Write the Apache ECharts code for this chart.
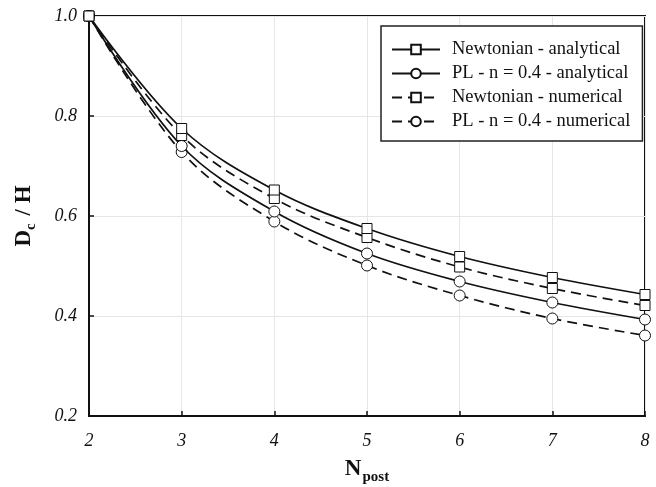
<!DOCTYPE html>
<html>
<head>
<meta charset="utf-8">
<script src="https://cdn.jsdelivr.net/npm/echarts@6/dist/echarts.min.js"></script>
<style>
  html, body { margin: 0; padding: 0; background: #fff; }
  #chart { width: 656px; height: 487px; }
</style>
</head>
<body>
<div id="chart"></div>
<script>
// Number of posts
const nPost = [2, 3, 4, 5, 6, 7, 8];
// Dimensionless D_c / H
const newtonianAnalytical = [1.0, 0.775, 0.652, 0.575, 0.519, 0.477, 0.443];
const plAnalytical        = [1.0, 0.740, 0.609, 0.525, 0.469, 0.427, 0.393];
const newtonianNumerical  = [1.0, 0.761, 0.635, 0.557, 0.498, 0.455, 0.421];
const plNumerical         = [1.0, 0.728, 0.589, 0.501, 0.441, 0.395, 0.361];

const seriesNames = [
  'Newtonian - analytical',
  'PL - n = 0.4 - analytical',
  'Newtonian - numerical',
  'PL - n = 0.4 - numerical'
];

const FONT = '"Liberation Serif", "DejaVu Serif", serif';

function pairs(ys) { return nPost.map((x, i) => [x, ys[i]]); }

function makeSeries(name, ys, symbol, dashed, z) {
  return {
    name: name,
    type: 'line',
    data: pairs(ys),
    smooth: 0.35,
    symbol: symbol,
    symbolSize: symbol === 'rect' ? 10 : 11,
    showAllSymbol: true,
    z: z,
    lineStyle: { color: '#111', width: 1.7, type: dashed ? [10, 6] : 'solid' },
    itemStyle: { color: '#fff', borderColor: '#111', borderWidth: 1 },
    emphasis: { disabled: true },
    animation: false
  };
}

const chart = echarts.init(document.getElementById('chart'), null, { renderer: 'canvas' });
chart.setOption({
  backgroundColor: '#fff',
  animation: false,
  grid: {
    left: 89, right: 11, top: 16, bottom: 71,
    outerBoundsMode: 'none',
    containLabel: false,
    show: true, borderColor: '#111', borderWidth: 2, backgroundColor: 'transparent'
  },
  legend: {
    orient: 'vertical',
    left: 381, top: 26,
    data: seriesNames,
    itemWidth: 48, itemHeight: 12, itemGap: 5,
    padding: [14, 12, 10, 10],
    borderColor: '#222', borderWidth: 1.5,
    backgroundColor: '#fff',
    textStyle: { fontFamily: FONT, fontSize: 18.5, lineHeight: 18, color: '#111', padding: [0, 0, 0, 7] },
    selectedMode: false
  },
  xAxis: {
    type: 'value', min: 2, max: 8, interval: 1,
    axisLine: { lineStyle: { color: '#111', width: 2 } },
    axisTick: { inside: true, length: 5, lineStyle: { color: '#111', width: 1.5 } },
    splitLine: { show: true, lineStyle: { color: '#e6e6e6', width: 1 } },
    axisLabel: { fontFamily: FONT, fontStyle: 'italic', fontSize: 18, color: '#111', margin: 16 },
    name: '{b|N}{s|post}',
    nameLocation: 'middle', nameGap: 37,
    nameTextStyle: {
      rich: {
        b: { fontFamily: FONT, fontWeight: 'bold', fontSize: 23, color: '#111' },
        s: { fontFamily: FONT, fontWeight: 'bold', fontSize: 15, color: '#111', padding: [17, 0, 0, 1] }
      }
    }
  },
  yAxis: {
    type: 'value', min: 0.2, max: 1.0, interval: 0.2,
    axisLine: { lineStyle: { color: '#111', width: 2 } },
    axisTick: { inside: true, length: 5, lineStyle: { color: '#111', width: 1.5 } },
    splitLine: { show: true, lineStyle: { color: '#e6e6e6', width: 1 } },
    axisLabel: {
      fontFamily: FONT, fontStyle: 'italic', fontSize: 18, color: '#111', margin: 12,
      formatter: v => v.toFixed(1)
    },
    name: '{b|D}{s|c}{b| / H}',
    nameLocation: 'middle', nameGap: 50, nameRotate: 90,
    nameTextStyle: {
      rich: {
        b: { fontFamily: FONT, fontWeight: 'bold', fontSize: 23, color: '#111' },
        s: { fontFamily: FONT, fontWeight: 'bold', fontSize: 15, color: '#111', padding: [14, 2, 0, 0] }
      }
    }
  },
  series: [
    makeSeries(seriesNames[0], newtonianAnalytical, 'rect', false, 5),
    makeSeries(seriesNames[1], plAnalytical, 'circle', false, 4),
    makeSeries(seriesNames[2], newtonianNumerical, 'rect', true, 3),
    makeSeries(seriesNames[3], plNumerical, 'circle', true, 2)
  ]
});
</script>
</body>
</html>
